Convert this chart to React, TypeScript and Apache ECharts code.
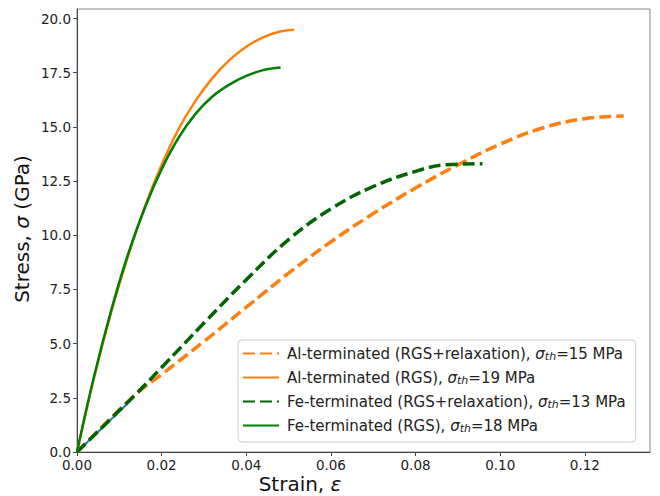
import React, { useEffect, useRef } from "react";
import * as echarts from "echarts";

// Al-terminated (RGS+relaxation)
const alRelaxStrain = [0, 0.0137, 0.02, 0.03, 0.04, 0.05, 0.06, 0.07, 0.08, 0.09, 0.1, 0.11, 0.12, 0.1292];
const alRelaxStress = [0, 2.63, 3.58, 5.1, 6.68, 8.25, 9.7, 11.0, 12.18, 13.25, 14.2, 14.95, 15.38, 15.5];
// Al-terminated (RGS)
const alRgsStrain = [0, 0.004, 0.008, 0.012, 0.016, 0.02, 0.024, 0.028, 0.032, 0.036, 0.04, 0.044, 0.048, 0.0513];
const alRgsStress = [0, 3.4, 6.4, 9.0, 11.3, 13.25, 14.9, 16.2, 17.25, 18.08, 18.7, 19.13, 19.4, 19.48];
// Fe-terminated (RGS+relaxation)
const feRelaxStrain = [0, 0.0137, 0.02, 0.03, 0.04, 0.05, 0.06, 0.07, 0.08, 0.087, 0.0958];
const feRelaxStress = [0, 2.63, 3.9, 5.95, 7.95, 9.8, 11.22, 12.25, 12.95, 13.25, 13.3];
// Fe-terminated (RGS)
const feRgsStrain = [0, 0.004, 0.008, 0.012, 0.016, 0.02, 0.024, 0.028, 0.032, 0.036, 0.04, 0.044, 0.0481];
const feRgsStress = [0, 3.46, 6.48, 9.09, 11.25, 13.05, 14.5, 15.6, 16.4, 16.95, 17.35, 17.62, 17.74];
// underlying short blue segment near origin
const blueStrain = [0, 0.0135];
const blueStress = [0, 2.53];

const seriesNames = [
  "Al-terminated (RGS+relaxation), {i|σ}{sub|th}=15 MPa",
  "Al-terminated (RGS), {i|σ}{sub|th}=19 MPa",
  "Fe-terminated (RGS+relaxation), {i|σ}{sub|th}=13 MPa",
  "Fe-terminated (RGS), {i|σ}{sub|th}=18 MPa",
];

const xTicks = [0, 0.02, 0.04, 0.06, 0.08, 0.1, 0.12];
const yTicks = [0, 2.5, 5, 7.5, 10, 12.5, 15, 17.5, 20];

const zip = (xs: number[], ys: number[]) => xs.map((x, i) => [x, ys[i]]);

const FONT = "DejaVu Sans";

export default function App() {
  const ref = useRef<HTMLDivElement>(null);
  useEffect(() => {
    if (!ref.current) return;
    const chart = echarts.init(ref.current, undefined, { renderer: "svg" });
    const dashed = { type: [12, 5] as any, width: 3.5, cap: "butt" as any };
    chart.setOption({
      animation: false,
      backgroundColor: "#fff",
      textStyle: { fontFamily: FONT },
      grid: { left: 77, right: 10, top: 9, bottom: 44, show: true, borderColor: "#888", borderWidth: 1 },
      xAxis: {
        type: "value",
        min: 0,
        max: 0.1354,
        splitLine: { show: false },
        axisLine: { lineStyle: { color: "#444", width: 1 } },
        axisTick: { length: 4, lineStyle: { color: "#444" }, customValues: xTicks },
        axisLabel: {
          customValues: xTicks,
          fontSize: 13.5,
          color: "#222",
          fontFamily: FONT,
          margin: 6,
          formatter: (v: number) => v.toFixed(2),
        },
      },
      yAxis: {
        type: "value",
        min: 0,
        max: 20.44,
        splitLine: { show: false },
        axisLine: { show: true, lineStyle: { color: "#444", width: 1 } },
        axisTick: { show: true, length: 4, lineStyle: { color: "#444" }, customValues: yTicks },
        axisLabel: {
          customValues: yTicks,
          fontSize: 13.5,
          color: "#222",
          fontFamily: FONT,
          margin: 6,
          formatter: (v: number) => v.toFixed(1),
        },
      },
      legend: {
        data: seriesNames,
        orient: "vertical",
        left: 238,
        top: 340,
        itemWidth: 36,
        itemHeight: 16,
        itemGap: 8,
        padding: [6, 10, 8, 4],
        borderColor: "#ccc",
        borderWidth: 1,
        borderRadius: 4,
        backgroundColor: "rgba(255,255,255,0.85)",
        itemStyle: { opacity: 0 },
        textStyle: {
          fontSize: 15,
          color: "#222",
          fontFamily: FONT,
          padding: [0, 0, 0, 3],
          rich: {
            i: { fontSize: 15, fontStyle: "italic", color: "#222", fontFamily: FONT },
            sub: { fontSize: 11, fontStyle: "italic", color: "#222", fontFamily: FONT, padding: [6, 0, 0, 0] },
          },
        },
      },
      graphic: [
        {
          type: "text",
          x: 300,
          y: 484,
          style: {
            text: "Strain, {i|ε}",
            fontSize: 20,
            fontFamily: FONT,
            fill: "#111",
            align: "center",
            verticalAlign: "middle",
            rich: { i: { fontSize: 20, fontStyle: "italic", fontFamily: FONT, fill: "#111" } },
          },
        },
        {
          type: "text",
          x: 22,
          y: 229,
          rotation: Math.PI / 2,
          style: {
            text: "Stress, {i|σ} (GPa)",
            fontSize: 20,
            fontFamily: FONT,
            fill: "#111",
            align: "center",
            verticalAlign: "middle",
            rich: { i: { fontSize: 20, fontStyle: "italic", fontFamily: FONT, fill: "#111" } },
          },
        },
      ],
      series: [
        {
          name: "blue",
          type: "line",
          data: zip(blueStrain, blueStress),
          symbol: "none",
          lineStyle: { color: "#1f77b4", width: 2 },
          itemStyle: { color: "#1f77b4" },
          silent: true,
        },
        {
          name: seriesNames[0],
          type: "line",
          data: zip(alRelaxStrain, alRelaxStress),
          symbol: "none",
          smooth: 0.4,
          lineStyle: { ...dashed, color: "#ff7f0e" },
          itemStyle: { color: "#ff7f0e" },
        },
        {
          name: seriesNames[1],
          type: "line",
          data: zip(alRgsStrain, alRgsStress),
          symbol: "none",
          smooth: 0.4,
          lineStyle: { color: "#ff7f0e", width: 2.5 },
          itemStyle: { color: "#ff7f0e" },
        },
        {
          name: seriesNames[2],
          type: "line",
          data: zip(feRelaxStrain, feRelaxStress),
          symbol: "none",
          smooth: 0.4,
          lineStyle: { ...dashed, color: "#006400" },
          itemStyle: { color: "#006400" },
        },
        {
          name: seriesNames[3],
          type: "line",
          data: zip(feRgsStrain, feRgsStress),
          symbol: "none",
          smooth: 0.4,
          lineStyle: { color: "#008000", width: 2.5 },
          itemStyle: { color: "#008000" },
        },
      ],
    });
    return () => chart.dispose();
  }, []);
  return <div ref={ref} style={{ position: "absolute", left: 0, top: 0, width: 660, height: 496 }} />;
}
